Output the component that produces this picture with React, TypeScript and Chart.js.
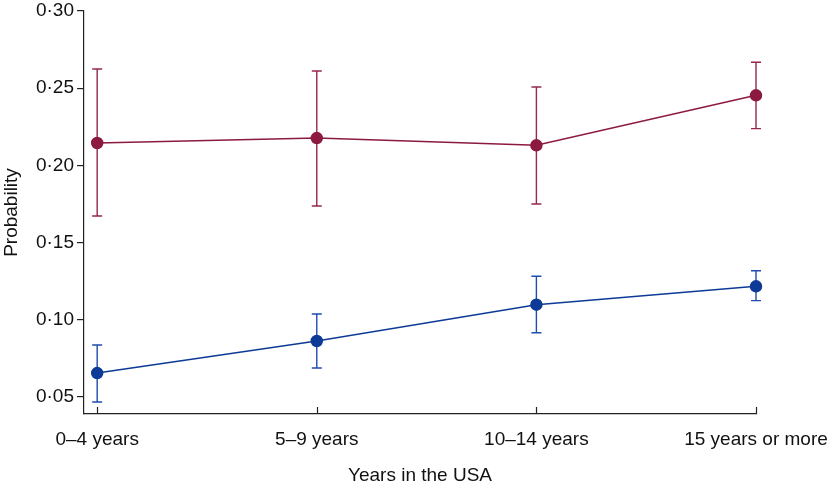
import React, { useEffect, useRef } from "react";
import { Chart, registerables } from "chart.js";

Chart.register(...registerables);

const categories = ["0–4 years", "5–9 years", "10–14 years", "15 years or more"];
const yTicks = [0.05, 0.1, 0.15, 0.2, 0.25, 0.3];

const redMean = [0.2145, 0.2177, 0.213, 0.2454];
const redLow = [0.1672, 0.1737, 0.175, 0.2238];
const redHigh = [0.2624, 0.2611, 0.2508, 0.2668];

const blueMean = [0.0655, 0.0863, 0.1098, 0.1217];
const blueLow = [0.0468, 0.0688, 0.0916, 0.1124];
const blueHigh = [0.0837, 0.1038, 0.1282, 0.1318];

const RED = "#8c1a40";
const BLUE = "#0d3a97";

const errorBars = [
  { low: redLow, high: redHigh, color: "#95284c" },
  { low: blueLow, high: blueHigh, color: "#1f4caf" },
];

const FONT = "'Liberation Sans', Arial, sans-serif";

export default function App() {
  const ref = useRef<HTMLCanvasElement | null>(null);

  useEffect(() => {
    document.body.style.margin = "0";
    const canvas = ref.current;
    if (!canvas) return;

    const errorPlugin = {
      id: "errorBars",
      beforeDatasetsDraw(chart: any) {
        const { ctx, scales } = chart;
        const xs = scales.x;
        const ys = scales.y;
        ctx.save();
        ctx.lineWidth = 1.4;
        errorBars.forEach((eb) => {
          ctx.strokeStyle = eb.color;
          eb.low.forEach((lo, i) => {
            const x = xs.getPixelForValue(i);
            const yl = ys.getPixelForValue(lo);
            const yh = ys.getPixelForValue(eb.high[i]);
            ctx.beginPath();
            ctx.moveTo(x, yl);
            ctx.lineTo(x, yh);
            ctx.moveTo(x - 5, yl);
            ctx.lineTo(x + 5, yl);
            ctx.moveTo(x - 5, yh);
            ctx.lineTo(x + 5, yh);
            ctx.stroke();
          });
        });
        ctx.restore();
      },
      afterDraw(chart: any) {
        const { ctx, scales, chartArea } = chart;
        const xs = scales.x;
        ctx.save();
        ctx.strokeStyle = "#222";
        ctx.lineWidth = 1.2;
        categories.forEach((_, i) => {
          const x = Math.round(xs.getPixelForValue(i)) + 0.5;
          ctx.beginPath();
          ctx.moveTo(x, chartArea.bottom);
          ctx.lineTo(x, chartArea.bottom - 7);
          ctx.stroke();
        });
        ctx.restore();
      },
    };

    const chart = new Chart(canvas, {
      type: "line",
      data: {
        datasets: [
          {
            data: redMean.map((v, i) => ({ x: i, y: v })),
            borderColor: RED,
            backgroundColor: RED,
            pointBackgroundColor: RED,
            pointBorderColor: RED,
            pointRadius: 5.5,
            borderWidth: 1.5,
            tension: 0,
            clip: false,
          },
          {
            data: blueMean.map((v, i) => ({ x: i, y: v })),
            borderColor: BLUE,
            backgroundColor: BLUE,
            pointBackgroundColor: BLUE,
            pointBorderColor: BLUE,
            pointRadius: 5.5,
            borderWidth: 1.5,
            tension: 0,
            clip: false,
          },
        ],
      },
      options: {
        responsive: false,
        animation: false,
        layout: { padding: { top: 11, right: 76, left: 0, bottom: 0 } },
        plugins: {
          legend: { display: false },
          tooltip: { enabled: false },
        },
        scales: {
          x: {
            type: "linear",
            min: -0.06,
            max: 3,
            afterBuildTicks: (scale: any) => {
              scale.ticks = categories.map((_, i) => ({ value: i }));
            },
            afterFit: (scale: any) => {
              scale.height = 77;
              scale.paddingLeft = 0;
              scale.paddingRight = 0;
            },
            grid: { display: false },
            border: { display: true, color: "#222", width: 1.2 },
            ticks: {
              color: "#111",
              font: { family: FONT, size: 19 },
              padding: 6,
              maxRotation: 0,
              autoSkip: false,
              callback: (v: any) => categories[Math.round(Number(v))] ?? "",
            },
            title: {
              display: true,
              text: "Years in the USA",
              color: "#111",
              font: { family: FONT, size: 19 },
              padding: { top: 0, bottom: 4 },
            },
          },
          y: {
            type: "linear",
            min: 0.039,
            max: 0.3,
            afterBuildTicks: (scale: any) => {
              scale.ticks = yTicks.map((v) => ({ value: v }));
            },
            afterFit: (scale: any) => {
              scale.width = 84;
              scale.paddingTop = 0;
              scale.paddingBottom = 0;
            },
            grid: {
              drawOnChartArea: false,
              drawTicks: true,
              tickLength: 7,
              color: "#222",
              lineWidth: 1.2,
            },
            border: { display: true, color: "#222", width: 1.2 },
            ticks: {
              color: "#111",
              font: { family: FONT, size: 19 },
              padding: 3,
              callback: (v: any) => Number(v).toFixed(2).replace(".", "·"),
            },
            title: {
              display: true,
              text: "Probability",
              color: "#111",
              font: { family: FONT, size: 19 },
              padding: { top: 0, bottom: 0 },
            },
          },
        },
      },
      plugins: [errorPlugin],
    } as any);

    return () => chart.destroy();
  }, []);

  return (
    <div style={{ width: 832, height: 491 }}>
      <canvas ref={ref} width={832} height={491} style={{ display: "block" }} />
    </div>
  );
}
